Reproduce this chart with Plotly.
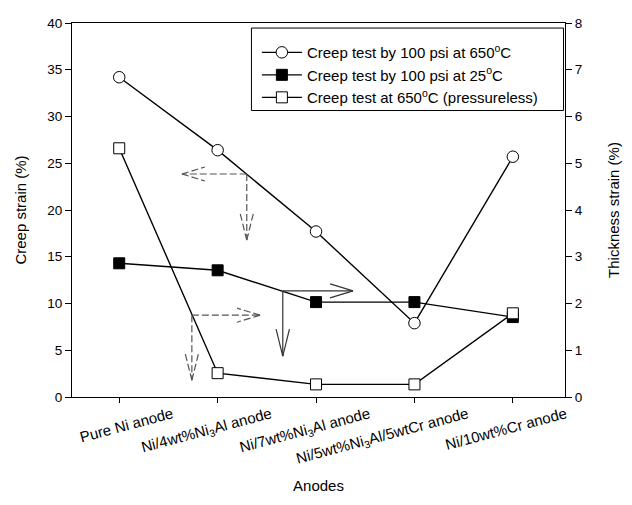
import plotly.graph_objects as go

# ---- data ----
anodes = [
    "Pure Ni anode",
    "Ni/4wt%Ni<sub>3</sub>Al anode",
    "Ni/7wt%Ni<sub>3</sub>Al anode",
    "Ni/5wt%Ni<sub>3</sub>Al/5wtCr anode",
    "Ni/10wt%Cr anode",
]
x_idx = [0, 1, 2, 3, 4]
creep_650_100psi = [34.2, 26.4, 17.7, 7.9, 25.7]        # left axis, creep strain (%)
thick_25_100psi = [2.86, 2.71, 2.03, 2.03, 1.71]         # right axis, thickness strain (%)
thick_650_nopress = [5.32, 0.51, 0.27, 0.27, 1.79]       # right axis, thickness strain (%)

names = [
    "Creep test by 100 psi at 650<sup>o</sup>C",
    "Creep test by 100 psi at 25<sup>o</sup>C",
    "Creep test at 650<sup>o</sup>C (pressureless)",
]

left_ticks = [0, 5, 10, 15, 20, 25, 30, 35, 40]
right_ticks = [0, 1, 2, 3, 4, 5, 6, 7, 8]

# annotation arrows (start point on a curve, horizontal end, vertical end), in x-index / left-axis units
arrows = [
    dict(x0=1.296, y0=23.85, xh=0.637, yv=16.78, dash="7px,3px"),
    dict(x0=0.738, y0=8.75, xh=1.431, yv=1.79, dash="7px,3px"),
    dict(x0=1.662, y0=11.35, xh=2.376, yv=4.36, dash="solid"),
]

FONT = "Liberation Sans, Arial, sans-serif"

fig = go.Figure()
fig.add_trace(go.Scatter(
    x=x_idx, y=creep_650_100psi, name=names[0], mode="lines+markers",
    line=dict(color="black", width=1.4),
    marker=dict(symbol="circle", size=11.5, color="white", line=dict(color="black", width=1)),
))
fig.add_trace(go.Scatter(
    x=x_idx, y=thick_25_100psi, name=names[1], mode="lines+markers", yaxis="y2",
    line=dict(color="black", width=1.4),
    marker=dict(symbol="square", size=11, color="black", line=dict(color="black", width=1)),
))
fig.add_trace(go.Scatter(
    x=x_idx, y=thick_650_nopress, name=names[2], mode="lines+markers", yaxis="y2",
    line=dict(color="black", width=1.4),
    marker=dict(symbol="square", size=11, color="white", line=dict(color="black", width=1)),
))

shapes = []
hl, hw = 0.2335, 0.75      # horizontal arrow head length (x units), half width (y units)
vl, vw = 2.89, 0.068       # vertical arrow head length (y units), half width (x units)
for a in arrows:
    col = "#333333" if a["dash"] == "solid" else "#555555"
    ln = dict(color=col, width=1.2, dash=a["dash"])
    # horizontal shaft
    shapes.append(dict(type="line", xref="x", yref="y", x0=a["x0"], y0=a["y0"], x1=a["xh"], y1=a["y0"], line=ln))
    s = 1 if a["xh"] > a["x0"] else -1
    for d in (hw, -hw):
        shapes.append(dict(type="line", xref="x", yref="y", x0=a["xh"], y0=a["y0"],
                           x1=a["xh"] - s * hl, y1=a["y0"] + d, line=ln))
    # vertical shaft
    shapes.append(dict(type="line", xref="x", yref="y", x0=a["x0"], y0=a["y0"], x1=a["x0"], y1=a["yv"], line=ln))
    for d in (vw, -vw):
        shapes.append(dict(type="line", xref="x", yref="y", x0=a["x0"], y0=a["yv"],
                           x1=a["x0"] + d, y1=a["yv"] + vl, line=ln))

# legend frame
shapes.append(dict(type="rect", xref="paper", yref="paper", x0=0.364, x1=0.997, y0=0.766, y1=0.9865,
                   line=dict(color="black", width=1), fillcolor="rgba(0,0,0,0)"))

fig.update_layout(
    width=632, height=505,
    margin=dict(l=72, r=67, t=23, b=108, autoexpand=False),
    paper_bgcolor="white", plot_bgcolor="white",
    font=dict(family=FONT, color="black", size=13),
    showlegend=True,
    legend=dict(x=0.375, y=0.965, xanchor="left", yanchor="top", bgcolor="rgba(0,0,0,0)",
                borderwidth=0, font=dict(size=15, family=FONT), itemwidth=40,
                tracegroupgap=0),
    shapes=shapes,
    xaxis=dict(
        range=[-0.48, 4.53], tickvals=x_idx, ticktext=anodes, tickangle=-15,
        ticklabelshift=53, ticklabelstandoff=-3, automargin=False,
        showline=True, linecolor="black", linewidth=1, mirror=True,
        ticks="outside", ticklen=5, tickcolor="black",
        showgrid=False, zeroline=False,
        tickfont=dict(size=15),
        title=dict(text="Anodes", font=dict(size=15), standoff=12),
    ),
    yaxis=dict(
        range=[0, 40], tickvals=left_ticks, automargin=False,
        showline=True, linecolor="black", linewidth=1,
        ticks="outside", ticklen=6, tickcolor="black",
        showgrid=False, zeroline=False,
        tickfont=dict(size=13.5),
        title=dict(text="Creep strain (%)", font=dict(size=15), standoff=17),
    ),
    yaxis2=dict(
        range=[0, 8], tickvals=right_ticks, overlaying="y", side="right", automargin=False,
        showline=True, linecolor="black", linewidth=1,
        ticks="outside", ticklen=6, tickcolor="black",
        showgrid=False, zeroline=False,
        tickfont=dict(size=13.5),
        title=dict(text="Thickness strain (%)", font=dict(size=15), standoff=26),
    ),
)

fig.write_html("out.html")
